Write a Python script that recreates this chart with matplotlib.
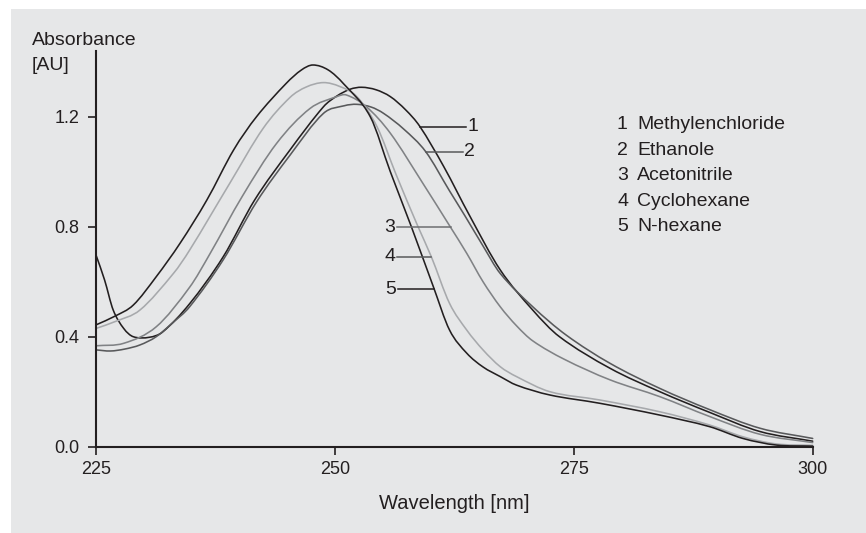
import numpy as np
import matplotlib
matplotlib.use("Agg")
import matplotlib.pyplot as plt
from matplotlib.patches import Rectangle, PathPatch
from matplotlib.path import Path

plt.rcParams['font.family'] = ['Liberation Sans', 'DejaVu Sans']

# ---------------- data ----------------
names = ["Methylenchloride", "Ethanole", "Acetonitrile", "Cyclohexane", "N-hexane"]
colors = ["#231f20", "#58595b", "#808285", "#a7a9ac", "#231f20"]

wl1 = [225.0, 225.9, 226.8, 227.9, 228.9, 230.6, 232.0, 234.8, 238.3, 241.6, 245.3, 248.8, 250.2,
       251.6, 252.8, 254.3, 255.8, 257.4, 258.9, 261.4, 264.1, 267.3, 270.7, 273.5, 278.8, 284.0,
       289.2, 294.5, 300.0]
a1 = [0.697, 0.606, 0.497, 0.430, 0.400, 0.398, 0.418, 0.520, 0.690, 0.897, 1.079, 1.236, 1.275,
      1.300, 1.307, 1.298, 1.273, 1.225, 1.164, 1.018, 0.840, 0.643, 0.497, 0.400, 0.285, 0.200,
      0.125, 0.055, 0.020]

wl2 = [225.0, 226.5, 228.0, 229.6, 231.3, 233.0, 234.8, 238.3, 241.8, 245.3, 248.8, 251.0, 252.3,
       253.8, 255.1, 257.2, 259.5, 262.0, 263.6, 265.5, 267.3, 270.7, 274.2, 278.8, 284.0, 289.2,
       294.5, 300.0]
a2 = [0.352, 0.348, 0.355, 0.370, 0.400, 0.450, 0.509, 0.679, 0.890, 1.060, 1.212, 1.240, 1.245,
      1.235, 1.212, 1.155, 1.073, 0.930, 0.840, 0.730, 0.630, 0.509, 0.406, 0.303, 0.212, 0.135,
      0.067, 0.030]

wl3 = [225.0, 227.9, 231.3, 234.8, 236.9, 240.3, 243.9, 247.4, 250.2, 251.2, 253.3, 255.8, 259.2,
       262.1, 263.8, 265.5, 267.3, 269.0, 270.7, 274.0, 278.8, 284.0, 289.2, 294.5, 300.0]
a3 = [0.367, 0.376, 0.436, 0.580, 0.700, 0.910, 1.103, 1.230, 1.273, 1.279, 1.236, 1.140, 0.958,
      0.798, 0.703, 0.600, 0.509, 0.440, 0.385, 0.318, 0.243, 0.182, 0.110, 0.045, 0.015]

wl4 = [225.0, 227.0, 229.6, 233.1, 234.8, 239.0, 242.5, 245.3, 247.0, 248.8, 250.5, 252.3, 254.4,
       256.4, 258.7, 260.1, 262.0, 263.8, 265.5, 267.3, 269.0, 272.5, 277.7, 284.0, 289.2, 292.7,
       296.2, 300.0]
a4 = [0.430, 0.455, 0.497, 0.630, 0.715, 0.958, 1.158, 1.270, 1.308, 1.324, 1.310, 1.273, 1.164,
      0.990, 0.800, 0.690, 0.521, 0.424, 0.352, 0.291, 0.255, 0.200, 0.170, 0.127, 0.079, 0.036,
      0.010, 0.005]

wl5 = [225.0, 227.0, 228.9, 231.3, 233.8, 236.6, 239.4, 241.8, 244.9, 246.5, 247.7, 249.3, 250.9,
       253.7, 255.8, 258.0, 260.3, 262.0, 263.8, 265.5, 267.3, 269.0, 272.5, 277.7, 284.0, 289.2,
       292.7, 296.2, 300.0]
a5 = [0.443, 0.475, 0.515, 0.618, 0.740, 0.897, 1.079, 1.200, 1.321, 1.370, 1.388, 1.370, 1.320,
      1.200, 1.000, 0.800, 0.582, 0.424, 0.340, 0.290, 0.255, 0.224, 0.188, 0.158, 0.115, 0.073,
      0.030, 0.006, 0.002]

series_wl = [wl1, wl2, wl3, wl4, wl5]
series_a = [a1, a2, a3, a4, a5]

xticks = [225, 250, 275, 300]
yticks = [0.0, 0.4, 0.8, 1.2]
ytick_labels = ["0.0", "0.4", "0.8", "1.2"]

# leader annotations: curve-end wavelength and free-end wavelength
leader_curve_wl = [258.9, 259.5, 262.1, 260.1, 260.4]
leader_free_wl = [263.7, 263.4, 256.5, 256.5, 256.6]
leader_colors = ["#231f20", "#58595b", "#6d6e71", "#58595b", "#231f20"]


def smooth_path(x, y):
    """Cubic Hermite Bezier path passing through every data point."""
    x = np.asarray(x, float)
    y = np.asarray(y, float)
    n = len(x)
    m = np.empty(n)
    m[0] = (y[1] - y[0]) / (x[1] - x[0])
    m[-1] = (y[-1] - y[-2]) / (x[-1] - x[-2])
    for i in range(1, n - 1):
        m[i] = (y[i + 1] - y[i - 1]) / (x[i + 1] - x[i - 1])
    verts = [(x[0], y[0])]
    codes = [Path.MOVETO]
    for i in range(n - 1):
        dx = x[i + 1] - x[i]
        verts += [(x[i] + dx / 3, y[i] + m[i] * dx / 3),
                  (x[i + 1] - dx / 3, y[i + 1] - m[i + 1] * dx / 3),
                  (x[i + 1], y[i + 1])]
        codes += [Path.CURVE4] * 3
    return Path(verts, codes)


# ---------------- figure ----------------
W, H = 866, 533
fig = plt.figure(figsize=(W / 100, H / 100), dpi=100)
fig.patch.set_facecolor("white")
bg = Rectangle((11 / W, 0), 1, (H - 9) / H, transform=fig.transFigure,
               facecolor="#e6e7e8", edgecolor="none", zorder=-10)
fig.patches.append(bg)

def fx(x):
    return x / W

def fy(y):
    return 1 - y / H

ax = fig.add_axes([fx(96), fy(446.7), (812.7 - 96) / W, (446.7 - 50.7) / H])
ax.set_zorder(5)
ax.set_facecolor("none")
ax.set_xlim(225, 300)
ax.set_ylim(0, 1.44)

for wl, a, c in zip(series_wl, series_a, colors):
    ax.add_patch(PathPatch(smooth_path(wl, a), facecolor="none", edgecolor=c, lw=1.15,
                           transform=ax.transData, clip_on=False, capstyle="round"))

for spine in ["top", "right"]:
    ax.spines[spine].set_visible(False)
for spine in ["left", "bottom"]:
    ax.spines[spine].set_linewidth(1.5)
    ax.spines[spine].set_color("#231f20")

ax.set_xticks(xticks)
ax.set_xticklabels([str(t) for t in xticks])
ax.set_yticks(yticks)
ax.set_yticklabels(ytick_labels)
ax.tick_params(axis="both", direction="out", length=6, width=1.2, color="#231f20",
               labelsize=13, labelcolor="#231f20")
ax.tick_params(axis="y", pad=6)
ax.tick_params(axis="x", pad=4)

# leader lines and numbers
for i in range(5):
    xc = leader_curve_wl[i]
    yc = float(np.interp(xc, series_wl[i], series_a[i]))
    xf = leader_free_wl[i]
    ax.plot([xc, xf], [yc, yc], color=leader_colors[i], lw=1.1, clip_on=False)
    if xf > xc:
        ax.text(xf + 0.15, yc, str(i + 1), ha="left", va="center", fontsize=14, color="#231f20")
    else:
        ax.text(xf - 0.15, yc, str(i + 1), ha="right", va="center", fontsize=14, color="#231f20")

# axis titles
fig.text(fx(32), fy(45), "Absorbance", ha="left", va="baseline", fontsize=14, color="#231f20")
fig.text(fx(32), fy(70), "[AU]", ha="left", va="baseline", fontsize=14, color="#231f20")
fig.text(fx(454), fy(509), "Wavelength [nm]", ha="center", va="baseline", fontsize=14.5,
         color="#231f20")

# legend
for i, n in enumerate(names):
    yb = 129.3 + i * 25.4
    fig.text(fx(617), fy(yb), str(i + 1), ha="left", va="baseline", fontsize=14, color="#231f20")
    fig.text(fx(637), fy(yb), n, ha="left", va="baseline", fontsize=14, color="#231f20")

fig.savefig("out.png", dpi=100)
